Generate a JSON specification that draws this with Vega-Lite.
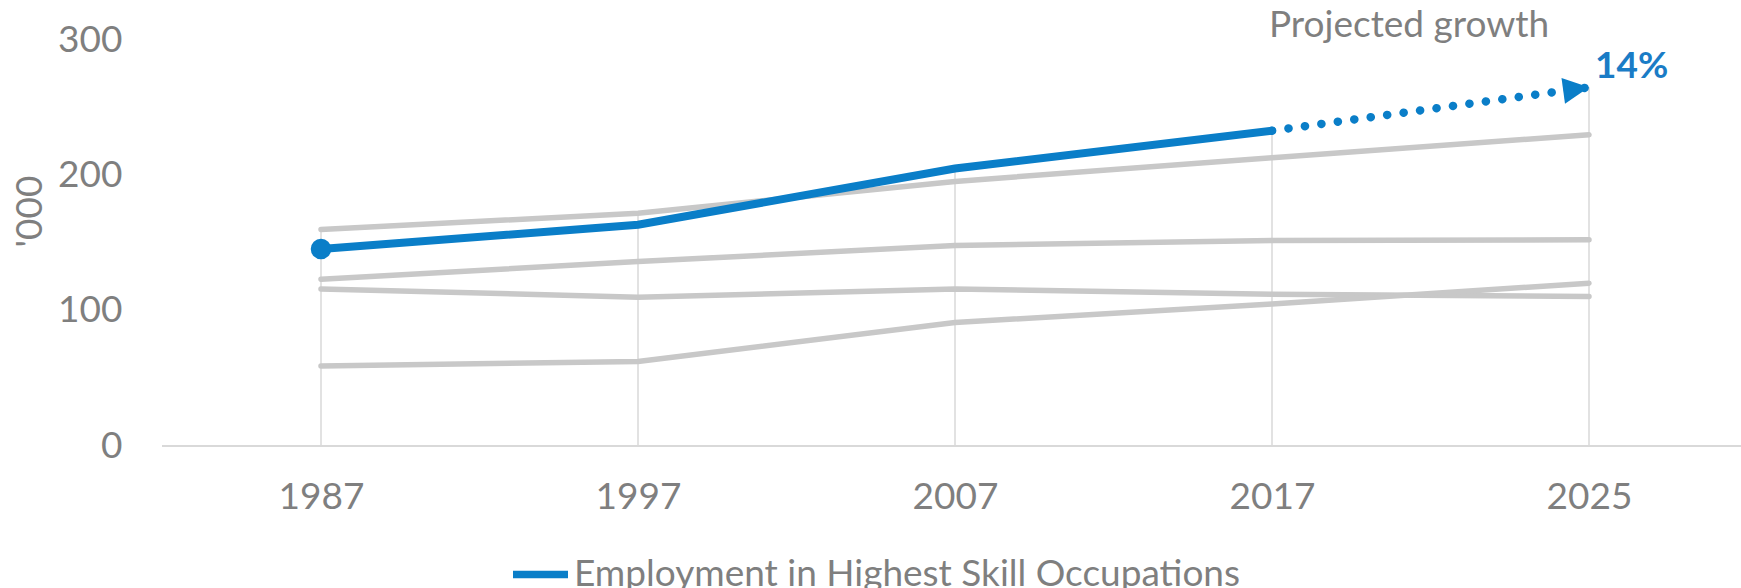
{
  "$schema": "https://vega.github.io/schema/vega-lite/v6.json",
  "autosize": {"type": "none"},
  "padding": {"left": 162, "top": 40, "right": 0, "bottom": 142},
  "width": 1579,
  "height": 406,
  "background": "white",
  "config": {
    "view": {"stroke": null},
    "font": "Lato",
    "axis": {"labelFont": "Lato", "titleFont": "Lato"},
    "legend": {"labelFont": "Lato"}
  },
  "datasets": {
    "series": [
      {"year": "1987", "series": "Highest", "value": 145.5},
      {"year": "1997", "series": "Highest", "value": 163.5},
      {"year": "2007", "series": "Highest", "value": 205},
      {"year": "2017", "series": "Highest", "value": 233},
      {"year": "2017", "series": "Projection", "value": 233},
      {"year": "2025", "series": "Projection", "value": 265},
      {"year": "1987", "series": "A", "value": 160},
      {"year": "1997", "series": "A", "value": 172},
      {"year": "2007", "series": "A", "value": 195.5},
      {"year": "2017", "series": "A", "value": 213},
      {"year": "2025", "series": "A", "value": 230},
      {"year": "1987", "series": "B", "value": 123.3},
      {"year": "1997", "series": "B", "value": 136.3},
      {"year": "2007", "series": "B", "value": 148.2},
      {"year": "2017", "series": "B", "value": 151.8},
      {"year": "2025", "series": "B", "value": 152.4},
      {"year": "1987", "series": "C", "value": 116},
      {"year": "1997", "series": "C", "value": 110},
      {"year": "2007", "series": "C", "value": 116},
      {"year": "2017", "series": "C", "value": 112.2},
      {"year": "2025", "series": "C", "value": 110.4},
      {"year": "1987", "series": "D", "value": 59.2},
      {"year": "1997", "series": "D", "value": 62.4},
      {"year": "2007", "series": "D", "value": 91.2},
      {"year": "2017", "series": "D", "value": 105},
      {"year": "2025", "series": "D", "value": 120.3}
    ],
    "tops": [
      {"year": "1987", "top": 160},
      {"year": "1997", "top": 172},
      {"year": "2007", "top": 205},
      {"year": "2017", "top": 233},
      {"year": "2025", "top": 265}
    ],
    "notes": [
      {"year": "2017", "label": "Projected growth", "value": 310, "kind": "title"},
      {"year": "2025", "label": "14%", "value": 280, "kind": "pct"}
    ]
  },
  "data": {"name": "series"},
  "encoding": {
    "x": {
      "field": "year",
      "type": "ordinal",
      "scale": {"type": "point", "domain": ["1987", "1997", "2007", "2017", "2025"], "range": [159, 1427], "padding": 0},
      "axis": {
        "title": null,
        "domain": false,
        "ticks": false,
        "grid": false,
        "labelAngle": 0,
        "labelFontSize": 37,
        "labelColor": "#7f7f7f",
        "labelBaseline": "middle",
        "labelPadding": 51
      }
    },
    "y": {
      "field": "value",
      "type": "quantitative",
      "scale": {"domain": [0, 300], "nice": false, "zero": true},
      "axis": {
        "title": "'000",
        "titleFontSize": 37,
        "titleFontWeight": "normal",
        "titleColor": "#7f7f7f",
        "titleAngle": -90,
        "titleX": -132,
        "titleY": 171,
        "titleAlign": "center",
        "titleBaseline": "middle",
        "domain": false,
        "ticks": false,
        "grid": false,
        "values": [0, 100, 200, 300],
        "labelFontSize": 37,
        "labelColor": "#7f7f7f",
        "labelPadding": 40
      }
    }
  },
  "layer": [
    {
      "data": {"name": "tops"},
      "mark": {"type": "rule", "color": "#d9d9d9", "strokeWidth": 1.5},
      "encoding": {
        "y": {"field": "top", "type": "quantitative"},
        "y2": {"datum": 0}
      }
    },
    {
      "mark": {"type": "rule", "color": "#d9d9d9", "strokeWidth": 2},
      "encoding": {"x": {"value": 0}, "x2": {"value": 1579}, "y": {"datum": 0}}
    },
    {
      "transform": [{"filter": "indexof(['A','B','C','D'], datum.series) >= 0"}],
      "mark": {"type": "line", "color": "#c8c8c8", "strokeWidth": 5.5, "strokeCap": "round"},
      "encoding": {"detail": {"field": "series"}}
    },
    {
      "transform": [{"filter": "datum.series === 'Projection'"}],
      "mark": {"type": "line", "color": "#0a7ec8", "strokeWidth": 8.5, "strokeCap": "round", "strokeDash": [0.1, 16.5]},
      "encoding": {}
    },
    {
      "transform": [{"filter": "datum.series === 'Highest'"}],
      "mark": {"type": "line", "strokeWidth": 8, "strokeCap": "round"},
      "encoding": {
        "color": {
          "datum": "Employment in Highest Skill Occupations",
          "scale": {"range": ["#0a7ec8"]},
          "legend": {
            "title": null,
            "orient": "none",
            "legendX": 347,
            "legendY": 503,
            "padding": 0,
            "symbolType": "stroke",
            "symbolSize": 3025,
            "symbolStrokeWidth": 7.5,
            "labelFontSize": 37,
            "labelColor": "#7f7f7f",
            "labelOffset": 2,
            "labelLimit": 1000
          }
        }
      }
    },
    {
      "transform": [{"filter": "datum.series === 'Highest' && datum.year === '1987'"}],
      "mark": {"type": "point", "filled": true, "opacity": 1, "color": "#0a7ec8", "size": 420},
      "encoding": {}
    },
    {
      "transform": [{"filter": "datum.series === 'Projection' && datum.year === '2025'"}],
      "mark": {"type": "point", "filled": true, "opacity": 1, "color": "#0a7ec8", "size": 2700, "shape": "M0,0L-1,-0.5L-1,0.5Z", "angle": 352.3},
      "encoding": {}
    },
    {
      "data": {"name": "notes"},
      "transform": [{"filter": "datum.kind === 'title'"}],
      "mark": {"type": "text", "align": "left", "baseline": "middle", "dx": -3, "fontSize": 37, "color": "#7f7f7f"},
      "encoding": {"text": {"field": "label"}}
    },
    {
      "data": {"name": "notes"},
      "transform": [{"filter": "datum.kind === 'pct'"}],
      "mark": {"type": "text", "align": "left", "baseline": "middle", "dx": 6, "fontSize": 37, "fontWeight": "bold", "color": "#1a7cc6"},
      "encoding": {"text": {"field": "label"}}
    }
  ]
}
